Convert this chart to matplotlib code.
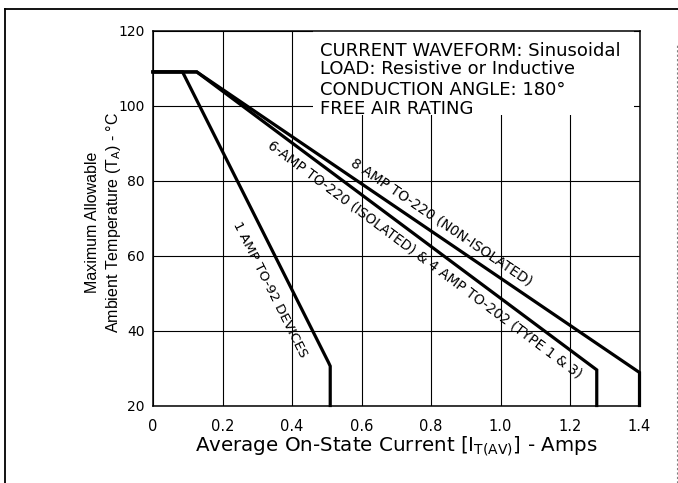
import numpy as np
import matplotlib
matplotlib.use("Agg")
import matplotlib.pyplot as plt
from matplotlib.patches import Rectangle
from matplotlib.lines import Line2D

plt.rcParams['font.family'] = ['DejaVu Sans']
plt.rcParams['mathtext.fontset'] = 'dejavusans'

W, H, DPI = 678, 483, 100

# derating curves (current in A, temperature in deg C)
amp1_x = [0.0, 0.085, 0.505, 0.51, 0.51]
amp1_y = [109, 109, 31.5, 30.5, 20]
amp6_x = [0.0, 0.126, 1.277, 1.277]
amp6_y = [109, 109, 29.5, 20]
amp8_x = [0.0, 0.126, 1.40, 1.40]
amp8_y = [109, 109, 28.8, 20]

x_ticks = [0, 0.2, 0.4, 0.6, 0.8, 1.0, 1.2, 1.4]
x_labels = ['0', '0.2', '0.4', '0.6', '0.8', '1.0', '1.2', '1.4']
y_ticks = [20, 40, 60, 80, 100, 120]

notes = ['CURRENT WAVEFORM: Sinusoidal',
         'LOAD: Resistive or Inductive',
         'CONDUCTION ANGLE: 180\u00b0',
         'FREE AIR RATING']
notes_y = [114.7, 109.8, 104.3, 99.2]

fig = plt.figure(figsize=(W / DPI, H / DPI), dpi=DPI)
fig.subplots_adjust(left=153 / W, right=639.5 / W,
                    top=1 - 30.7 / H, bottom=1 - 405.5 / H)
ax = fig.add_subplot(111)
ax.set_xlim(0, 1.4)
ax.set_ylim(20, 120)
ax.set_axisbelow(True)

ax.set_xticks(x_ticks)
ax.set_xticklabels(x_labels)
ax.set_yticks(y_ticks)
ax.tick_params(length=0, labelsize=10.5, pad=10)
ax.tick_params(axis='y', labelsize=10, pad=6)
ax.grid(True, color='black', linewidth=0.8)
for s in ax.spines.values():
    s.set_linewidth(1.1)

# white area behind the notes hides the grid
ax.add_patch(Rectangle((0.46, 97.4), 0.925, 22.6, facecolor='white',
                       edgecolor='none', zorder=1))
for t, y in zip(notes, notes_y):
    ax.text(0.48, y, t, fontsize=13, va='center', ha='left', zorder=3)

for xs, ys in [(amp1_x, amp1_y), (amp6_x, amp6_y), (amp8_x, amp8_y)]:
    ax.plot(xs, ys, color='black', linewidth=2.3, clip_on=False,
            solid_joinstyle='miter', zorder=2)


def line_label(text, x, y, xs, ys, size=10):
    # angle of the sloped segment in data units, turned to screen at draw time
    ang = np.degrees(np.arctan2(ys[2] - ys[1], xs[2] - xs[1]))
    ax.text(x, y, text, rotation=ang, rotation_mode='anchor',
            transform_rotates_text=True,
            ha='center', va='center', fontsize=size, zorder=3)


line_label('1 AMP TO-92 DEVICES', 0.337, 51.0, amp1_x, amp1_y, size=9.7)
line_label('6-AMP TO-220 (ISOLATED) & 4 AMP TO-202 (TYPE 1 & 3)', 0.783, 58.9,
           amp6_x, amp6_y, size=9.9)
line_label('8 AMP TO-220 (N0N-ISOLATED)', 0.829, 69.0, amp8_x, amp8_y)

ax.set_xlabel(r'Average On-State Current [I$_{\mathregular{T(AV)}}$] - Amps',
              fontsize=14.3, labelpad=0)
fig.text(104 / W, 1 - 222 / H,
         'Maximum Allowable\nAmbient Temperature (T$_{\\mathregular{A}}$) - \u00b0C',
         rotation=90, ha='center', va='center', fontsize=11.5,
         family='Liberation Sans', math_fontfamily='dejavusans',
         multialignment='center', linespacing=1.25)

# outer frame of the scanned figure
fig.add_artist(Line2D([5 / W, 5 / W], [0, 1 - 9 / H], color='black',
                      linewidth=1.3, transform=fig.transFigure))
fig.add_artist(Line2D([5 / W, 1], [1 - 9 / H, 1 - 9 / H], color='black',
                      linewidth=1.3, transform=fig.transFigure))
fig.add_artist(Line2D([676.5 / W, 676.5 / W], [0, 1 - 45 / H], color='0.5',
                      linewidth=0.8, linestyle=(0, (2, 2)),
                      transform=fig.transFigure))

fig.savefig('out.png', dpi=DPI)
